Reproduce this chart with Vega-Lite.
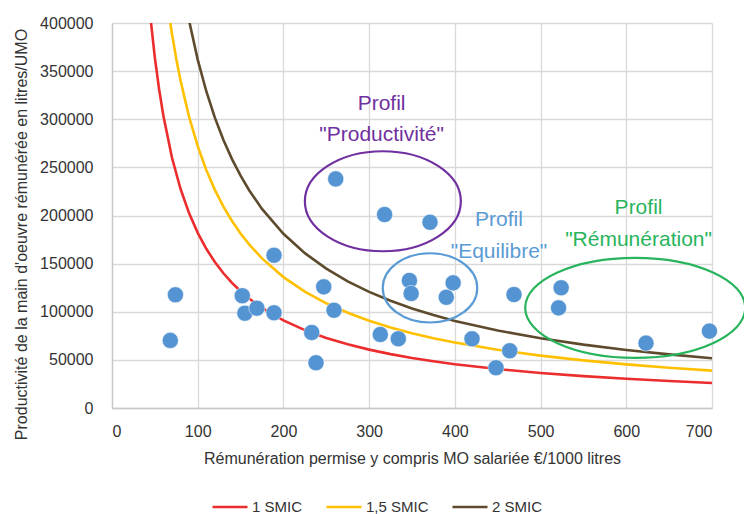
{
  "$schema": "https://vega.github.io/schema/vega-lite/v6.json",
  "width": 600,
  "height": 385,
  "autosize": {"type": "none"},
  "padding": {"left": 112, "top": 23, "right": 32, "bottom": 106},
  "background": "white",
  "config": {
    "view": {"stroke": null},
    "font": "Liberation Sans, sans-serif",
    "axis": {
      "grid": true,
      "gridColor": "#d9d9d9",
      "gridWidth": 1.3,
      "domainColor": "#c8c8c8",
      "domainWidth": 1.3,
      "ticks": false,
      "labelFont": "Liberation Sans, sans-serif",
      "labelFontSize": 16,
      "labelColor": "#333333",
      "titleFont": "Liberation Sans, sans-serif",
      "titleFontSize": 16,
      "titleFontWeight": "normal",
      "titleColor": "#333333"
    }
  },
  "datasets": {
    "curves": [
      {"s": "1 SMIC", "x": 45, "y": 404444}, {"s": "1 SMIC", "x": 50, "y": 364000}, {"s": "1 SMIC", "x": 55, "y": 330909},
      {"s": "1 SMIC", "x": 60, "y": 303333}, {"s": "1 SMIC", "x": 70, "y": 260000}, {"s": "1 SMIC", "x": 80, "y": 227500},
      {"s": "1 SMIC", "x": 90, "y": 202222}, {"s": "1 SMIC", "x": 100, "y": 182000}, {"s": "1 SMIC", "x": 110, "y": 165455},
      {"s": "1 SMIC", "x": 120, "y": 151667}, {"s": "1 SMIC", "x": 130, "y": 140000}, {"s": "1 SMIC", "x": 140, "y": 130000},
      {"s": "1 SMIC", "x": 150, "y": 121333}, {"s": "1 SMIC", "x": 160, "y": 113750}, {"s": "1 SMIC", "x": 175, "y": 104000},
      {"s": "1 SMIC", "x": 200, "y": 91000}, {"s": "1 SMIC", "x": 225, "y": 80889}, {"s": "1 SMIC", "x": 250, "y": 72800},
      {"s": "1 SMIC", "x": 275, "y": 66182}, {"s": "1 SMIC", "x": 300, "y": 60667}, {"s": "1 SMIC", "x": 325, "y": 56000},
      {"s": "1 SMIC", "x": 350, "y": 52000}, {"s": "1 SMIC", "x": 375, "y": 48533}, {"s": "1 SMIC", "x": 400, "y": 45500},
      {"s": "1 SMIC", "x": 450, "y": 40444}, {"s": "1 SMIC", "x": 500, "y": 36400}, {"s": "1 SMIC", "x": 550, "y": 33091},
      {"s": "1 SMIC", "x": 600, "y": 30333}, {"s": "1 SMIC", "x": 650, "y": 28000}, {"s": "1 SMIC", "x": 700, "y": 26000},
      {"s": "1,5 SMIC", "x": 65, "y": 418462}, {"s": "1,5 SMIC", "x": 70, "y": 388571}, {"s": "1,5 SMIC", "x": 75, "y": 362667},
      {"s": "1,5 SMIC", "x": 80, "y": 340000}, {"s": "1,5 SMIC", "x": 90, "y": 302222}, {"s": "1,5 SMIC", "x": 100, "y": 272000},
      {"s": "1,5 SMIC", "x": 110, "y": 247273}, {"s": "1,5 SMIC", "x": 120, "y": 226667}, {"s": "1,5 SMIC", "x": 130, "y": 209231},
      {"s": "1,5 SMIC", "x": 140, "y": 194286}, {"s": "1,5 SMIC", "x": 150, "y": 181333}, {"s": "1,5 SMIC", "x": 160, "y": 170000},
      {"s": "1,5 SMIC", "x": 175, "y": 155429}, {"s": "1,5 SMIC", "x": 200, "y": 136000}, {"s": "1,5 SMIC", "x": 225, "y": 120889},
      {"s": "1,5 SMIC", "x": 250, "y": 108800}, {"s": "1,5 SMIC", "x": 275, "y": 98909}, {"s": "1,5 SMIC", "x": 300, "y": 90667},
      {"s": "1,5 SMIC", "x": 325, "y": 83692}, {"s": "1,5 SMIC", "x": 350, "y": 77714}, {"s": "1,5 SMIC", "x": 375, "y": 72533},
      {"s": "1,5 SMIC", "x": 400, "y": 68000}, {"s": "1,5 SMIC", "x": 450, "y": 60444}, {"s": "1,5 SMIC", "x": 500, "y": 54400},
      {"s": "1,5 SMIC", "x": 550, "y": 49455}, {"s": "1,5 SMIC", "x": 600, "y": 45333}, {"s": "1,5 SMIC", "x": 650, "y": 41846},
      {"s": "1,5 SMIC", "x": 700, "y": 38857},
      {"s": "2 SMIC", "x": 85, "y": 425882}, {"s": "2 SMIC", "x": 90, "y": 402222}, {"s": "2 SMIC", "x": 100, "y": 362000},
      {"s": "2 SMIC", "x": 110, "y": 329091}, {"s": "2 SMIC", "x": 120, "y": 301667}, {"s": "2 SMIC", "x": 130, "y": 278462},
      {"s": "2 SMIC", "x": 140, "y": 258571}, {"s": "2 SMIC", "x": 150, "y": 241333}, {"s": "2 SMIC", "x": 160, "y": 226250},
      {"s": "2 SMIC", "x": 175, "y": 206857}, {"s": "2 SMIC", "x": 200, "y": 181000}, {"s": "2 SMIC", "x": 225, "y": 160889},
      {"s": "2 SMIC", "x": 250, "y": 144800}, {"s": "2 SMIC", "x": 275, "y": 131636}, {"s": "2 SMIC", "x": 300, "y": 120667},
      {"s": "2 SMIC", "x": 325, "y": 111385}, {"s": "2 SMIC", "x": 350, "y": 103429}, {"s": "2 SMIC", "x": 375, "y": 96533},
      {"s": "2 SMIC", "x": 400, "y": 90500}, {"s": "2 SMIC", "x": 450, "y": 80444}, {"s": "2 SMIC", "x": 500, "y": 72400},
      {"s": "2 SMIC", "x": 550, "y": 65818}, {"s": "2 SMIC", "x": 600, "y": 60333}, {"s": "2 SMIC", "x": 650, "y": 55692},
      {"s": "2 SMIC", "x": 700, "y": 51714}
    ],
    "points": [
      {"x": 74, "y": 117600}, {"x": 68, "y": 70200}, {"x": 152, "y": 116600}, {"x": 155, "y": 98500},
      {"x": 169, "y": 103700}, {"x": 189, "y": 98900}, {"x": 189, "y": 158700}, {"x": 233, "y": 78500},
      {"x": 238, "y": 47000}, {"x": 247, "y": 125900}, {"x": 259, "y": 101600}, {"x": 261, "y": 238000},
      {"x": 313, "y": 76400}, {"x": 318, "y": 201000}, {"x": 334, "y": 71900}, {"x": 347, "y": 132500},
      {"x": 349, "y": 119000}, {"x": 371, "y": 193000}, {"x": 390, "y": 115000}, {"x": 398, "y": 130000},
      {"x": 420, "y": 71900}, {"x": 448, "y": 41800}, {"x": 464, "y": 59500}, {"x": 469, "y": 117900},
      {"x": 521, "y": 104000}, {"x": 524, "y": 124900}, {"x": 623, "y": 67400}, {"x": 697, "y": 79900}
    ],
    "profils": [
      {"p": "Productivité", "x": 316, "y": 214800, "lx": 314.5, "ly": 315600, "label": "Profil\n\"Productivité\""},
      {"p": "Equilibre", "x": 371, "y": 124800, "lx": 451.5, "ly": 195300, "label": "Profil\n\"Equilibre\""},
      {"p": "Rémunération", "x": 610.4, "y": 104100, "lx": 614.3, "ly": 208300, "label": "Profil\n\"Rémunération\""}
    ]
  },
  "layer": [
    {
      "data": {"name": "curves"},
      "mark": {"type": "line", "strokeWidth": 2.6, "clip": true},
      "encoding": {
        "x": {
          "field": "x", "type": "quantitative",
          "scale": {"domain": [0, 700], "nice": false},
          "axis": {"values": [0, 100, 200, 300, 400, 500, 600, 700], "labelPadding": 15,
                   "title": "Rémunération permise y compris MO salariée €/1000  litres",
                   "titleBaseline": "alphabetic", "titleY": 55}
        },
        "y": {
          "field": "y", "type": "quantitative",
          "scale": {"domain": [0, 400000], "nice": false},
          "axis": {"values": [0, 50000, 100000, 150000, 200000, 250000, 300000, 350000, 400000],
                   "format": "d", "labelPadding": 19,
                   "title": "Productivité de la main d'oeuvre rémunérée en litres/UMO",
                   "titleAngle": 270, "titleBaseline": "alphabetic", "titleAlign": "center",
                   "titleX": -86, "titleY": 211}
        },
        "color": {
          "field": "s", "type": "nominal",
          "scale": {"domain": ["1 SMIC", "1,5 SMIC", "2 SMIC"], "range": ["#ec2d2d", "#ffc000", "#5e4b2d"]},
          "legend": {
            "orient": "none", "direction": "horizontal", "legendX": 99, "legendY": 465,
            "title": null, "symbolType": "stroke", "symbolSize": 1225, "symbolStrokeWidth": 2.6,
            "labelFont": "Liberation Sans, sans-serif", "labelFontSize": 15,
            "labelColor": "#333333", "labelOffset": 3, "columnPadding": 18, "padding": 0
          }
        },
        "detail": {"field": "s"}
      }
    },
    {
      "data": {"name": "points"},
      "mark": {"type": "point", "filled": true, "size": 260, "color": "#5494d2", "opacity": 1,
               "stroke": "#ffffff", "strokeWidth": 0.7, "strokeOpacity": 0.7},
      "encoding": {
        "x": {"field": "x", "type": "quantitative"},
        "y": {"field": "y", "type": "quantitative"}
      }
    },
    {
      "data": {"name": "profils"},
      "transform": [{"filter": "datum.p == 'Productivité'"}],
      "layer": [
        {
          "mark": {"type": "point", "filled": false, "color": "#7030a0", "strokeWidth": 2.2, "opacity": 1, "size": 24336,
                   "shape": "M -1 0 C -1 -0.354 -0.5523 -0.641 0 -0.641 C 0.5523 -0.641 1 -0.354 1 0 C 1 0.354 0.5523 0.641 0 0.641 C -0.5523 0.641 -1 0.354 -1 0 Z"},
          "encoding": {"x": {"field": "x", "type": "quantitative"}, "y": {"field": "y", "type": "quantitative"}}
        },
        {
          "mark": {"type": "text", "color": "#7030a0", "fontSize": 21, "lineBreak": "\n", "lineHeight": 30.5,
                   "align": "center", "baseline": "middle", "font": "Liberation Sans, sans-serif"},
          "encoding": {"x": {"field": "lx", "type": "quantitative"}, "y": {"field": "ly", "type": "quantitative"}, "text": {"field": "label"}}
        }
      ]
    },
    {
      "data": {"name": "profils"},
      "transform": [{"filter": "datum.p == 'Equilibre'"}],
      "layer": [
        {
          "mark": {"type": "point", "filled": false, "color": "#5b9bd5", "strokeWidth": 2.2, "opacity": 1, "size": 8930,
                   "shape": "M -1 0 C -1 -0.405 -0.5523 -0.733 0 -0.733 C 0.5523 -0.733 1 -0.405 1 0 C 1 0.405 0.5523 0.733 0 0.733 C -0.5523 0.733 -1 0.405 -1 0 Z"},
          "encoding": {"x": {"field": "x", "type": "quantitative"}, "y": {"field": "y", "type": "quantitative"}}
        },
        {
          "mark": {"type": "text", "color": "#5b9bd5", "fontSize": 21, "lineBreak": "\n", "lineHeight": 31.5,
                   "align": "center", "baseline": "middle", "font": "Liberation Sans, sans-serif"},
          "encoding": {"x": {"field": "lx", "type": "quantitative"}, "y": {"field": "ly", "type": "quantitative"}, "text": {"field": "label"}}
        }
      ]
    },
    {
      "data": {"name": "profils"},
      "transform": [{"filter": "datum.p == 'Rémunération'"}],
      "layer": [
        {
          "mark": {"type": "point", "filled": false, "color": "#28b45c", "strokeWidth": 2.2, "opacity": 1, "size": 48400,
                   "shape": "M -1 0 C -1 -0.251 -0.5523 -0.4545 0 -0.4545 C 0.5523 -0.4545 1 -0.251 1 0 C 1 0.251 0.5523 0.4545 0 0.4545 C -0.5523 0.4545 -1 0.251 -1 0 Z"},
          "encoding": {"x": {"field": "x", "type": "quantitative"}, "y": {"field": "y", "type": "quantitative"}}
        },
        {
          "mark": {"type": "text", "color": "#28b45c", "fontSize": 21, "lineBreak": "\n", "lineHeight": 32.5,
                   "align": "center", "baseline": "middle", "font": "Liberation Sans, sans-serif"},
          "encoding": {"x": {"field": "lx", "type": "quantitative"}, "y": {"field": "ly", "type": "quantitative"}, "text": {"field": "label"}}
        }
      ]
    }
  ]
}
